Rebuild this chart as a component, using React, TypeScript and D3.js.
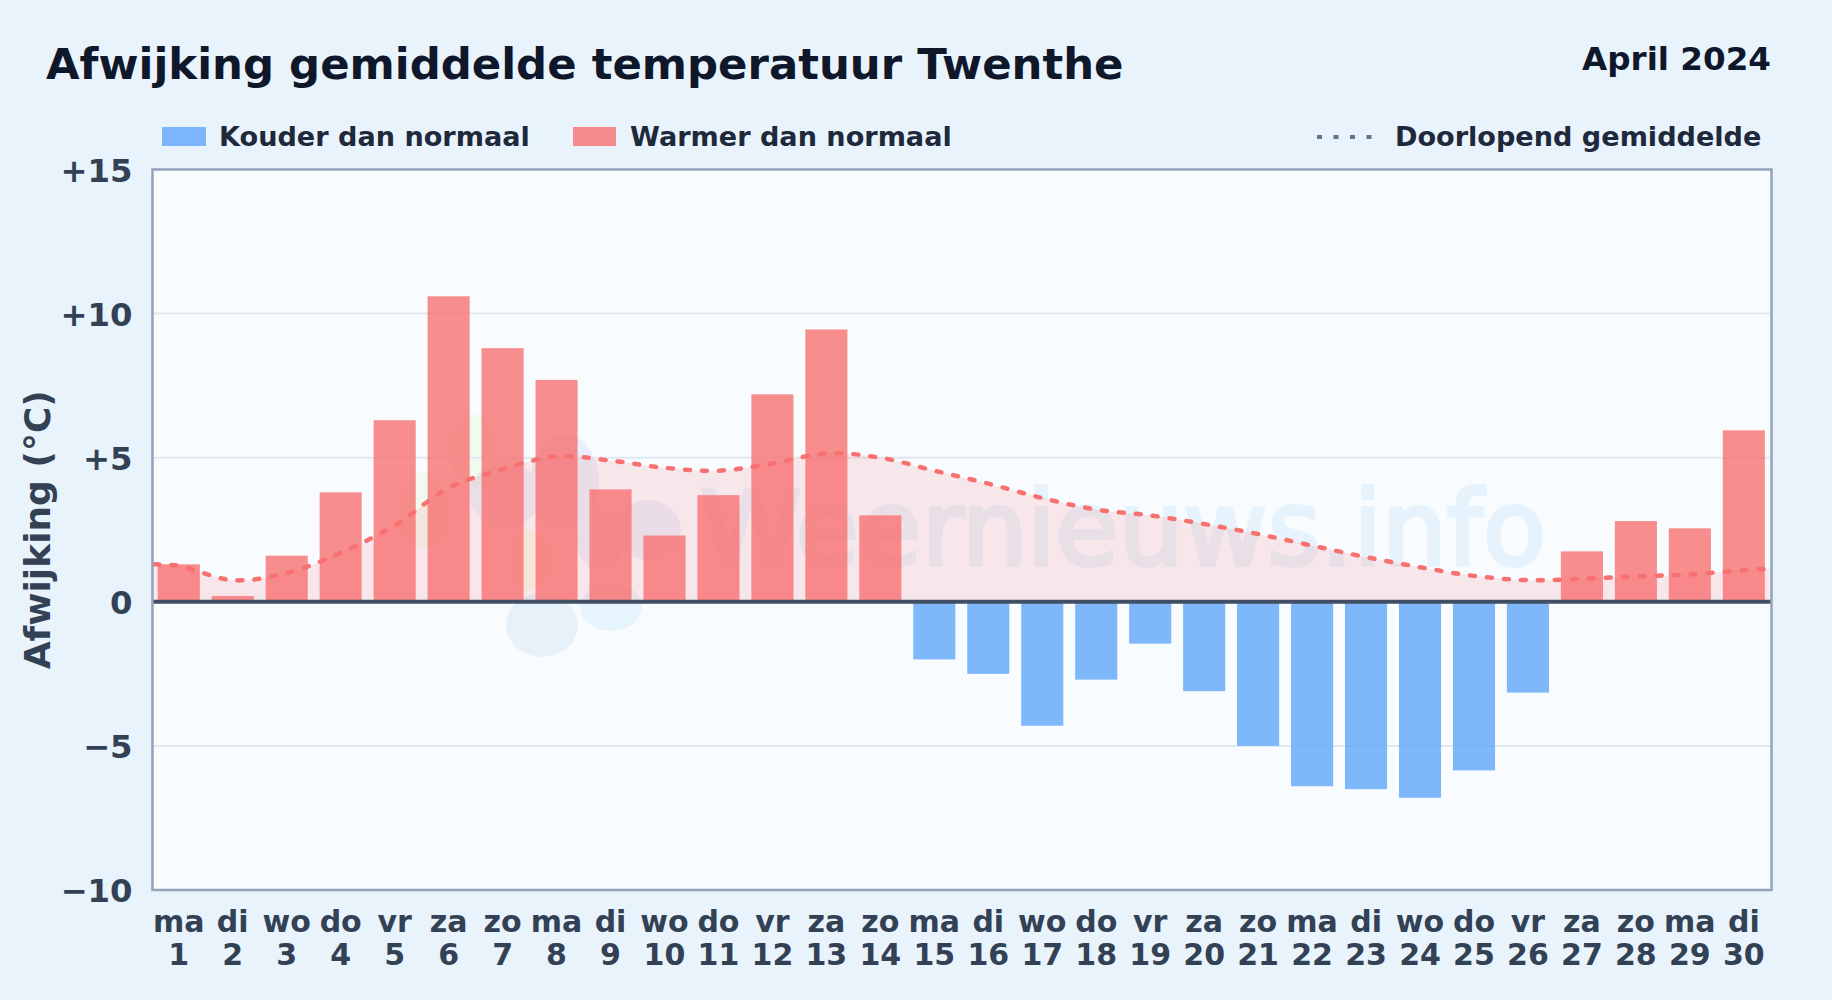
import React, { useEffect, useRef } from 'react'
import * as d3 from 'd3'

const days = d3.range(1, 31)
const weekdays = ['ma', 'di', 'wo', 'do', 'vr', 'za', 'zo', 'ma', 'di', 'wo', 'do', 'vr', 'za', 'zo', 'ma', 'di', 'wo', 'do', 'vr', 'za', 'zo', 'ma', 'di', 'wo', 'do', 'vr', 'za', 'zo', 'ma', 'di']
const deviations = [1.3, 0.2, 1.6, 3.8, 6.3, 10.6, 8.8, 7.7, 3.9, 2.3, 3.7, 7.2, 9.45, 3.0, -2.0, -2.5, -4.3, -2.7, -1.45, -3.1, -5.0, -6.4, -6.5, -6.8, -5.85, -3.15, 1.75, 2.8, 2.55, 5.95]
const runningMean = [1.25, 0.75, 1.0, 1.7, 2.65, 3.95, 4.6, 5.05, 4.9, 4.65, 4.55, 4.8, 5.15, 5.0, 4.55, 4.1, 3.6, 3.2, 3.0, 2.7, 2.35, 1.95, 1.55, 1.2, 0.9, 0.75, 0.8, 0.88, 0.95, 1.1]
const meanAtLeftEdge = 1.3
const meanAtRightEdge = 1.15
const yTicks = [-10, -5, 0, 5, 10, 15]

const WIDTH = 1832
const HEIGHT = 1000
const plot = { left: 152.5, right: 1771.5, top: 169.5, bottom: 890 }
const FONT = '"DejaVu Sans", sans-serif'

export default function App() {
    const svgRef = useRef<SVGSVGElement>(null)

    useEffect(() => {
        if (!svgRef.current) return
        document.body.style.margin = '0'

        const svg = d3.select(svgRef.current)
        svg.selectAll('*').remove()
        svg.style('font-family', FONT)

        const x = d3.scaleBand<number>()
            .domain(days)
            .range([plot.left - 0.7, plot.right - 0.7])
            .paddingInner(0.22)
            .paddingOuter(0.11)
        const center = (d: number) => (x(d) || 0) + x.bandwidth() / 2

        const y = d3.scaleLinear()
            .domain([-10, 15])
            .range([plot.bottom, plot.top])

        svg.append('rect').attr('width', WIDTH).attr('height', HEIGHT).attr('fill', '#e8f3fc')

        svg.append('rect')
            .attr('x', plot.left).attr('y', plot.top)
            .attr('width', plot.right - plot.left).attr('height', plot.bottom - plot.top)
            .attr('fill', '#f8fcff')

        // Watermark: pale sun, cloud and two drops, then the site name
        const sun = svg.append('g').attr('opacity', 0.1).attr('fill', '#bef264')
        sun.append('ellipse').attr('cx', 473).attr('cy', 450).attr('rx', 24).attr('ry', 36)
        sun.append('ellipse').attr('cx', 425).attr('cy', 510).attr('rx', 26).attr('ry', 38)
        sun.append('ellipse').attr('cx', 530).attr('cy', 560).attr('rx', 22).attr('ry', 30).attr('fill', '#fde047')

        const cloud = svg.append('g').attr('opacity', 0.07).attr('fill', '#2563eb')
        cloud.append('ellipse').attr('cx', 505).attr('cy', 495).attr('rx', 36).attr('ry', 32)
        cloud.append('ellipse').attr('cx', 565).attr('cy', 482).attr('rx', 34).attr('ry', 48)
        cloud.append('ellipse').attr('cx', 600).attr('cy', 540).attr('rx', 24).attr('ry', 30)
        cloud.append('ellipse').attr('cx', 648).attr('cy', 530).attr('rx', 33).attr('ry', 30)

        svg.append('ellipse')
            .attr('cx', 542).attr('cy', 625).attr('rx', 36).attr('ry', 32)
            .attr('fill', '#1e6fb8').attr('opacity', 0.08)
        svg.append('ellipse')
            .attr('cx', 611).attr('cy', 607).attr('rx', 31).attr('ry', 24)
            .attr('fill', '#1a9ae0').attr('opacity', 0.08)

        svg.append('text')
            .attr('x', 1123).attr('y', 565)
            .attr('text-anchor', 'middle')
            .attr('font-size', 102.5)
            .attr('fill', '#2590e0')
            .attr('stroke', '#2590e0')
            .attr('stroke-width', 4)
            .attr('opacity', 0.08)
            .text('Weernieuws.info')

        // Grid
        svg.append('g')
            .selectAll('line')
            .data(yTicks.filter(t => t !== 0 && t !== 15 && t !== -10))
            .enter().append('line')
            .attr('x1', plot.left).attr('x2', plot.right)
            .attr('y1', d => y(d)).attr('y2', d => y(d))
            .attr('stroke', '#e2e8f0')
            .attr('stroke-width', 2)

        // Running mean, area below it and the line itself
        const meanPoints: [number, number][] = [
            [plot.left + 2, meanAtLeftEdge],
            ...days.map((d, i) => [center(d), runningMean[i]] as [number, number]),
            [plot.right - 2, meanAtRightEdge],
        ]

        const area = d3.area<[number, number]>()
            .x(d => d[0])
            .y0(y(0))
            .y1(d => y(d[1]))
            .curve(d3.curveCatmullRom.alpha(0.5))

        svg.append('path')
            .attr('d', area(meanPoints))
            .attr('fill', '#f87171')
            .attr('opacity', 0.15)

        // Bars
        svg.append('g')
            .selectAll('rect')
            .data(days)
            .enter().append('rect')
            .attr('x', d => x(d) || 0)
            .attr('y', (d, i) => y(Math.max(0, deviations[i])))
            .attr('width', x.bandwidth())
            .attr('height', (d, i) => Math.abs(y(deviations[i]) - y(0)))
            .attr('fill', (d, i) => deviations[i] < 0 ? '#60a5fa' : '#f87171')
            .attr('opacity', 0.8)

        const line = d3.line<[number, number]>()
            .x(d => d[0])
            .y(d => y(d[1]))
            .curve(d3.curveCatmullRom.alpha(0.5))

        svg.append('path')
            .attr('d', line(meanPoints))
            .attr('fill', 'none')
            .attr('stroke', '#f87171')
            .attr('stroke-width', 4.5)
            .attr('stroke-linecap', 'round')
            .attr('stroke-dasharray', '5 12')

        // Zero line
        svg.append('line')
            .attr('x1', plot.left).attr('x2', plot.right)
            .attr('y1', y(0)).attr('y2', y(0))
            .attr('stroke', '#414e64')
            .attr('stroke-width', 4)

        // Frame
        svg.append('rect')
            .attr('x', plot.left).attr('y', plot.top)
            .attr('width', plot.right - plot.left).attr('height', plot.bottom - plot.top)
            .attr('fill', 'none')
            .attr('stroke', '#94a3b8')
            .attr('stroke-width', 2.5)

        // Y Axis
        const yAxis = svg.append('g')
            .attr('transform', `translate(${plot.left},0)`)
            .call(d3.axisLeft(y)
                .tickValues(yTicks)
                .tickSize(0)
                .tickPadding(20)
                .tickFormat(d => {
                    const v = +d
                    return v > 0 ? `+${v}` : v < 0 ? `\u2212${-v}` : '0'
                }))
        yAxis.select('.domain').remove()
        yAxis.selectAll('text')
            .attr('font-family', FONT)
            .attr('font-size', 32.3)
            .attr('font-weight', 700)
            .attr('fill', '#334155')
            .attr('transform', 'translate(0,1.5)')

        // X Axis (weekday above day number)
        const xLabels = svg.append('g')
            .selectAll('text')
            .data(days)
            .enter().append('text')
            .attr('text-anchor', 'middle')
            .attr('font-size', 30)
            .attr('font-weight', 700)
            .attr('fill', '#334155')
        xLabels.append('tspan')
            .attr('x', d => center(d))
            .attr('y', 932)
            .text((d, i) => weekdays[i])
        xLabels.append('tspan')
            .attr('x', d => center(d))
            .attr('y', 965)
            .text(d => d)

        svg.append('text')
            .attr('transform', `translate(50,${(plot.top + plot.bottom) / 2}) rotate(-90)`)
            .attr('text-anchor', 'middle')
            .attr('font-size', 36)
            .attr('font-weight', 700)
            .attr('fill', '#334155')
            .text('Afwijking (°C)')

        // Title block
        svg.append('text')
            .attr('x', 46).attr('y', 79)
            .attr('font-size', 43.4)
            .attr('font-weight', 700)
            .attr('fill', '#0f172a')
            .text('Afwijking gemiddelde temperatuur Twenthe')

        svg.append('text')
            .attr('x', 1771).attr('y', 70)
            .attr('text-anchor', 'end')
            .attr('font-size', 32.6)
            .attr('font-weight', 700)
            .attr('fill', '#0f172a')
            .text('April 2024')

        // Legend
        const legend = svg.append('g')
            .attr('font-size', 27.1)
            .attr('font-weight', 700)
            .attr('fill', '#1e293b')

        legend.append('rect').attr('x', 162).attr('y', 127).attr('width', 44).attr('height', 19)
            .attr('fill', '#60a5fa').attr('opacity', 0.8)
        legend.append('text').attr('x', 219).attr('y', 146).text('Kouder dan normaal')

        legend.append('rect').attr('x', 573).attr('y', 127).attr('width', 43).attr('height', 19)
            .attr('fill', '#f87171').attr('opacity', 0.8)
        legend.append('text').attr('x', 630).attr('y', 146).text('Warmer dan normaal')

        legend.append('line')
            .attr('x1', 1317).attr('x2', 1375).attr('y1', 137).attr('y2', 137)
            .attr('stroke', '#64748b')
            .attr('stroke-width', 4)
            .attr('stroke-dasharray', '5 11.5')
        legend.append('text').attr('x', 1395).attr('y', 146).text('Doorlopend gemiddelde')
    }, [])

    return <svg ref={svgRef} width={WIDTH} height={HEIGHT} viewBox={`0 0 ${WIDTH} ${HEIGHT}`} style={{ display: 'block' }} />
}
